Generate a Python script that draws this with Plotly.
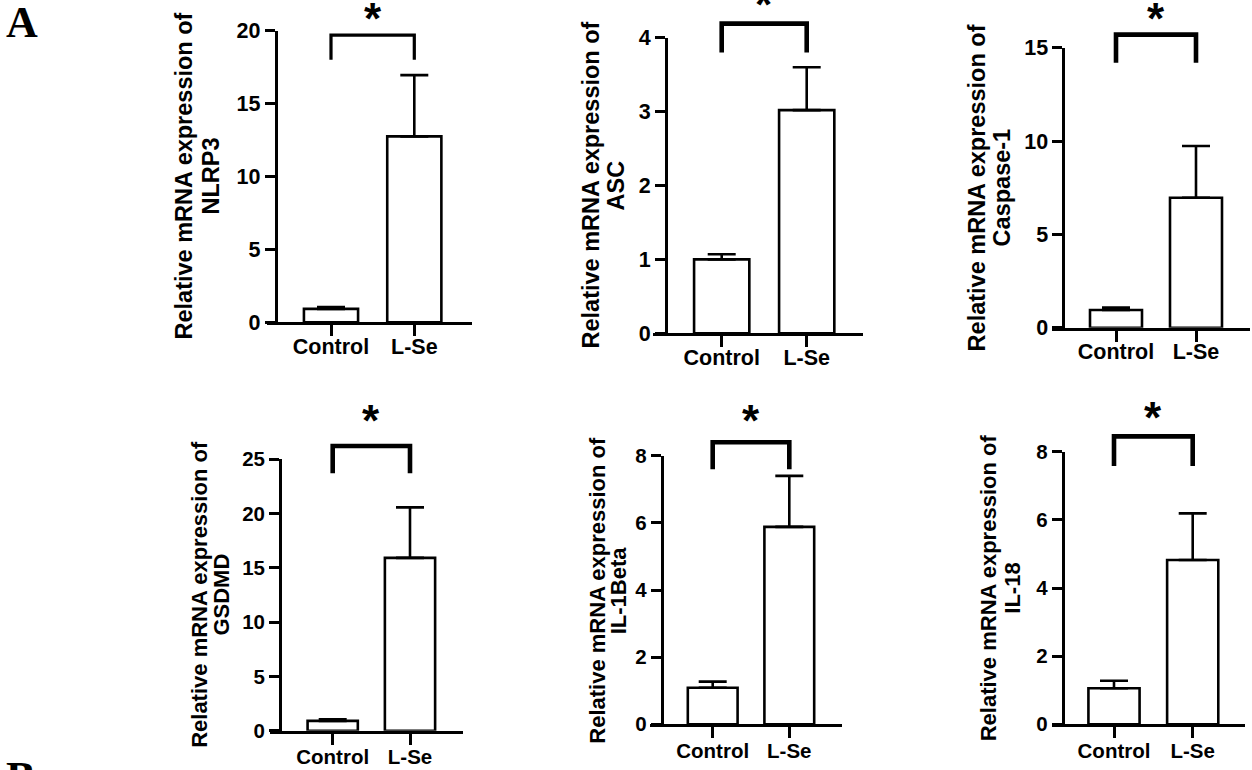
import plotly.graph_objects as go

W, H = 1252, 770

# ---------------- data ----------------
genes = ["NLRP3", "ASC", "Caspase-1", "GSDMD", "IL-1Beta", "IL-18"]
groups = ["Control", "L-Se"]
control_mean = [0.92, 1.00, 0.95, 0.90, 1.09, 1.06]
control_err = [0.12, 0.07, 0.13, 0.15, 0.18, 0.22]
lse_mean = [12.75, 3.02, 6.96, 15.90, 5.88, 4.82]
lse_err = [4.20, 0.58, 2.77, 4.65, 1.52, 1.37]
y_max = [20, 4, 15, 25, 8, 8]
y_dtick = [5, 1, 5, 5, 2, 2]
bracket_top = [19.7, 4.19, 15.7, 26.2, 8.4, 8.45]
bracket_end = [18.0, 3.80, 14.2, 23.7, 7.6, 7.58]
star_level = [21.08, 4.51, 16.78, 28.91, 9.16, 9.11]
sig_label = ["*", "*", "*", "*", "*", "*"]

# ---------------- layout geometry (pixels) ----------------
yaxis_x = [275.7, 666.0, 1063.3, 280.0, 661.7, 1062.7]
y0_px = [322.3, 333.3, 327.7, 730.7, 724.3, 724.3]
ytop_px = [30.7, 37.7, 47.7, 459.0, 455.7, 451.7]
xaxis_left = [266.7, 653.0, 1051.7, 270.0, 650.0, 1051.7]
xaxis_right = [471.7, 862.7, 1250.0, 462.7, 841.7, 1245.0]
tick0_px = [331.0, 721.7, 1116.0, 332.7, 712.7, 1114.0]
tick1_px = [414.3, 806.7, 1196.0, 410.0, 789.3, 1192.7]
title1_x = [183.0, 590.0, 976.7, 200.0, 596.7, 988.3]
title2_x = [210.0, 615.0, 1001.7, 221.7, 618.3, 1011.7]
bracket_w = [3.2, 4.6, 4.6, 4.6, 4.6, 4.6]
tick_font = [21.5, 21.5, 21.5, 20.5, 20.5, 20.5]
title_font = [23.5, 23.5, 23.5, 22, 22, 22]
xlabel_standoff = [-8, -8, -8, -5, -5, -5]

FONT = "Liberation Sans, Arial, sans-serif"

fig = go.Figure()
layout = dict(
    width=W, height=H,
    margin=dict(l=0, r=0, t=0, b=0, pad=0, autoexpand=False),
    paper_bgcolor="white", plot_bgcolor="white",
    showlegend=False,
    font=dict(family=FONT, color="black"),
)
shapes = []
annotations = []

for i in range(6):
    sfx = "" if i == 0 else str(i + 1)
    xa, ya = "x" + sfx, "y" + sfx
    fig.add_trace(go.Bar(
        x=[0, 1], y=[control_mean[i], lse_mean[i]], width=0.65,
        marker=dict(color="white", line=dict(color="black", width=2.6)),
        error_y=dict(type="data", symmetric=False,
                     array=[control_err[i], lse_err[i]], arrayminus=[0, 0],
                     color="black", thickness=2.6, width=14),
        xaxis=xa, yaxis=ya, hoverinfo="skip",
    ))
    spacing = tick1_px[i] - tick0_px[i]
    xr = [(xaxis_left[i] - tick0_px[i]) / spacing, (xaxis_right[i] - tick0_px[i]) / spacing]
    layout["xaxis" + sfx] = dict(
        domain=[xaxis_left[i] / W, xaxis_right[i] / W],
        range=xr, anchor=ya, automargin=False,
        tickvals=[0, 1], ticktext=groups,
        showline=True, linecolor="black", linewidth=2.8,
        ticks="outside", ticklen=11, tickwidth=2.8, tickcolor="black",
        ticklabelstandoff=xlabel_standoff[i],
        tickfont=dict(family=FONT, size=tick_font[i], color="black", weight="bold"),
        showgrid=False, zeroline=False, fixedrange=True,
    )
    layout["yaxis" + sfx] = dict(
        domain=[1 - y0_px[i] / H, 1 - ytop_px[i] / H],
        range=[0, y_max[i]], dtick=y_dtick[i], tick0=0,
        anchor="free", position=yaxis_x[i] / W, automargin=False,
        showline=True, linecolor="black", linewidth=2.8,
        ticks="outside", ticklen=10, tickwidth=2.8, tickcolor="black",
        tickfont=dict(family=FONT, size=tick_font[i], color="black", weight="bold"),
        showgrid=False, zeroline=False, fixedrange=True,
    )
    # significance bracket, in axis-domain units (unclipped)
    xd0 = (0 - xr[0]) / (xr[1] - xr[0])
    xd1 = (1 - xr[0]) / (xr[1] - xr[0])
    yd_top = bracket_top[i] / y_max[i]
    yd_end = bracket_end[i] / y_max[i]
    shapes.append(dict(
        type="path", xref=xa + " domain", yref=ya + " domain",
        path=f"M {xd0},{yd_end} L {xd0},{yd_top} L {xd1},{yd_top} L {xd1},{yd_end}",
        line=dict(color="black", width=bracket_w[i]),
    ))
    annotations.append(dict(
        text=sig_label[i], x=(xd0 + xd1) / 2, y=star_level[i] / y_max[i],
        xref=xa + " domain", yref=ya + " domain",
        showarrow=False, xanchor="center", yanchor="middle", yshift=-4,
        font=dict(family=FONT, size=44, color="black", weight="bold"),
    ))
    # y-axis title (two lines)
    ymid = 1 - (y0_px[i] + ytop_px[i]) / 2 / H
    for tx, txt in [(title1_x[i], "Relative mRNA expression of"), (title2_x[i], genes[i])]:
        annotations.append(dict(
            text=txt, x=tx / W, y=ymid, xref="paper", yref="paper",
            showarrow=False, textangle=-90, xanchor="center", yanchor="middle",
            font=dict(family=FONT, size=title_font[i], color="black", weight="bold"),
        ))

# panel letters
annotations.append(dict(text="A", x=4 / W, y=1 - 22 / H, xref="paper", yref="paper",
                        showarrow=False, xanchor="left", yanchor="middle",
                        font=dict(family="Liberation Serif, Times New Roman, serif", size=44,
                                  color="black", weight="bold")))
annotations.append(dict(text="B", x=4 / W, y=1 - 777 / H, xref="paper", yref="paper",
                        showarrow=False, xanchor="left", yanchor="middle",
                        font=dict(family="Liberation Serif, Times New Roman, serif", size=44,
                                  color="black", weight="bold")))

layout["shapes"] = shapes
layout["annotations"] = annotations
fig.update_layout(**layout)
fig.write_html("out.html", config={"displayModeBar": False},
               post_script="document.body.style.margin='0';document.body.style.overflow='hidden';")
